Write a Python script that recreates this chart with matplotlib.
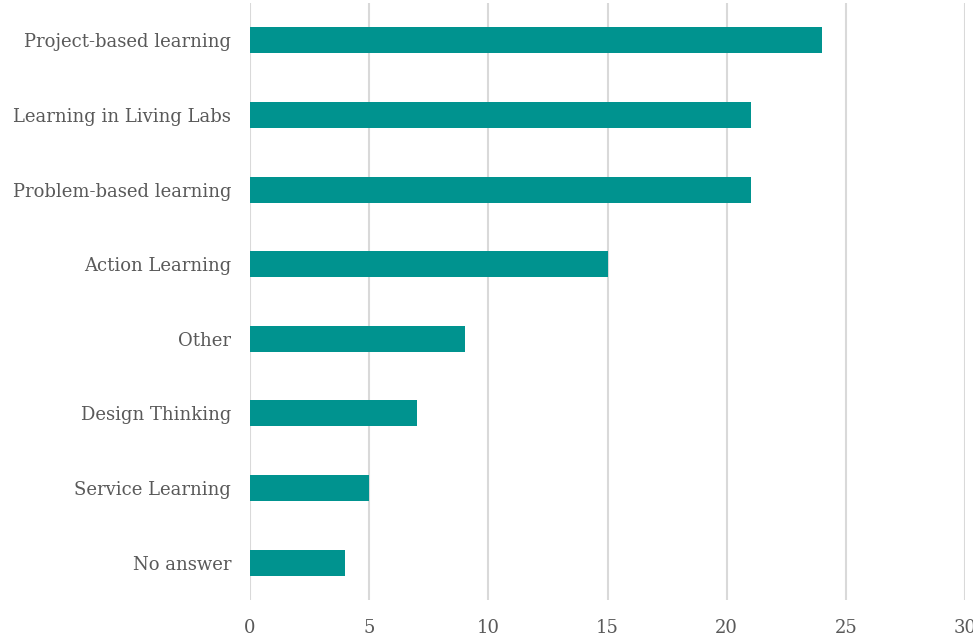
import matplotlib
matplotlib.use("Agg")
import matplotlib.pyplot as plt

# Data
categories = ["Project-based learning", "Learning in Living Labs", "Problem-based learning",
              "Action Learning", "Other", "Design Thinking", "Service Learning", "No answer"]
counts = [24, 21, 21, 15, 9, 7, 5, 4]
x_ticks = [0, 5, 10, 15, 20, 25, 30]

bar_color = "#00938f"
text_color = "#595959"
grid_color = "#d9d9d9"

fig = plt.figure(figsize=(9.73, 6.43), dpi=100)
ax = fig.add_axes([250 / 973, 1 - 600 / 643, 715 / 973, 597 / 643])

y = list(range(len(categories)))
ax.barh(y, counts, height=0.35, color=bar_color, zorder=3)
ax.set_ylim(len(categories) - 0.5, -0.5)
ax.set_xlim(0, 30)
ax.set_xticks(x_ticks)
ax.set_yticks(y)
ax.set_yticklabels(categories)

ax.grid(axis="x", color=grid_color, linewidth=1.5, zorder=0)
ax.grid(axis="y", visible=False)
for s in ax.spines.values():
    s.set_visible(False)
ax.tick_params(axis="both", length=0, colors=text_color, labelsize=13)
ax.tick_params(axis="x", pad=14)
ax.tick_params(axis="y", pad=13.5)
for lab in ax.get_xticklabels() + ax.get_yticklabels():
    lab.set_fontfamily("DejaVu Serif")
    lab.set_color(text_color)

fig.savefig("out.png", dpi=100)
